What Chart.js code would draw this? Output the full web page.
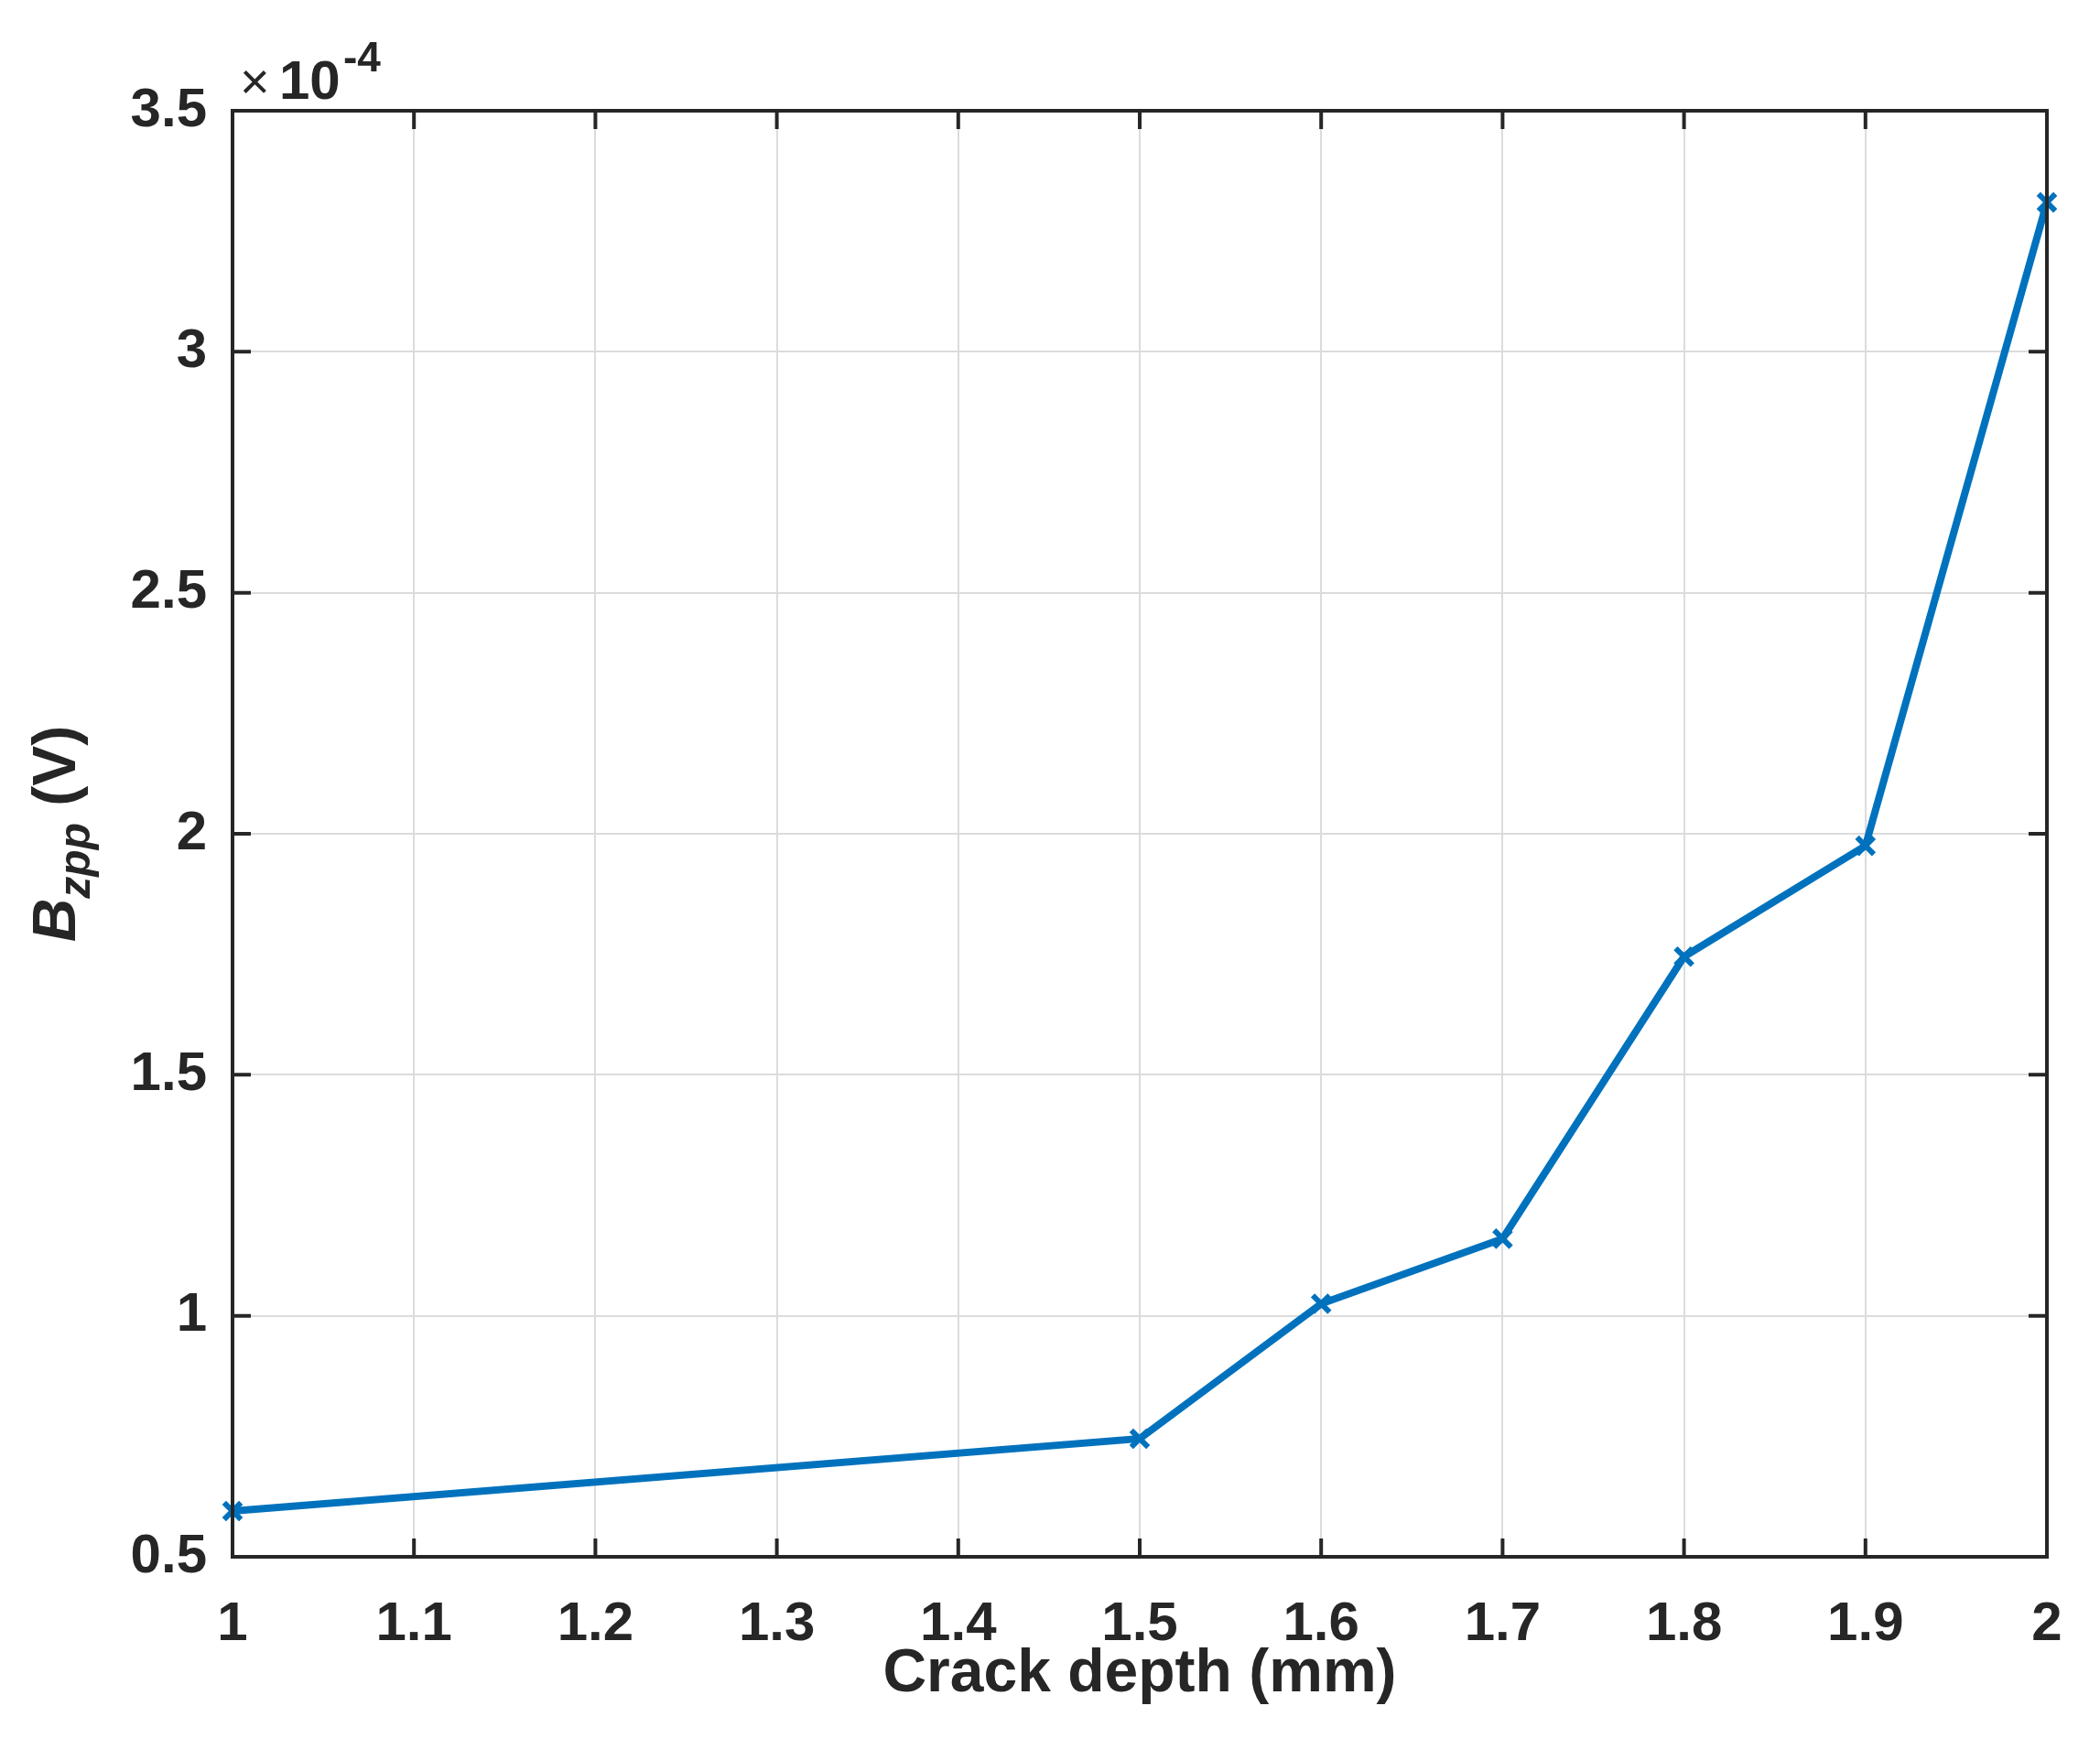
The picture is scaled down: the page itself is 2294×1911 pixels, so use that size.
<!DOCTYPE html>
<html><head><meta charset="utf-8">
<script src="https://cdn.jsdelivr.net/npm/chart.js@4/dist/chart.umd.min.js"></script>
<style>html,body{margin:0;padding:0;background:#fff}canvas{display:block}</style>
</head><body>
<div style="width:2294px;height:1911px"><canvas id="c" width="2294" height="1911"></canvas></div>
<script>
const crackDepth = [1.0, 1.5, 1.6, 1.7, 1.8, 1.9, 2.0];
const bzpp = [0.595, 0.745, 1.025, 1.16, 1.745, 1.975, 3.31]; // ×10^-4 V
const xTicks = [1, 1.1, 1.2, 1.3, 1.4, 1.5, 1.6, 1.7, 1.8, 1.9, 2];
const yTicks = [0.5, 1, 1.5, 2, 2.5, 3, 3.5];
const FONT = '"Liberation Sans", Arial, sans-serif';
const DARK = '#262626';

const deco = {
  id: 'deco',
  afterDraw(chart) {
    const ctx = chart.ctx, a = chart.chartArea, xs = chart.scales.x, ys = chart.scales.y;
    ctx.save();
    ctx.strokeStyle = DARK; ctx.lineWidth = 4;
    const T = 20;
    ctx.beginPath();
    xTicks.forEach(v => { const p = xs.getPixelForValue(v);
      ctx.moveTo(p, a.bottom); ctx.lineTo(p, a.bottom - T);
      ctx.moveTo(p, a.top); ctx.lineTo(p, a.top + T); });
    yTicks.forEach(v => { const p = ys.getPixelForValue(v);
      ctx.moveTo(a.left, p); ctx.lineTo(a.left + T, p);
      ctx.moveTo(a.right, p); ctx.lineTo(a.right - T, p); });
    ctx.stroke();
    ctx.strokeRect(a.left, a.top, a.right - a.left, a.bottom - a.top);
    // exponent
    ctx.fillStyle = DARK; ctx.textBaseline = 'alphabetic'; ctx.textAlign = 'left';
    ctx.font = '56px ' + FONT;
    ctx.fillText('\u00d7', 262, 108);
    ctx.font = 'bold 60px ' + FONT;
    ctx.fillText('10', 305, 108);
    ctx.font = 'bold 46px ' + FONT;
    ctx.fillText('-4', 375, 78);
    // x title
    ctx.font = 'bold 66px ' + FONT; ctx.textAlign = 'center';
    ctx.fillText('Crack depth (mm)', (a.left + a.right) / 2, 1848);
    // y title
    ctx.translate(82, (a.top + a.bottom) / 2);
    ctx.rotate(-Math.PI / 2);
    const parts = [['italic bold 66px ', 'B', 0], ['italic bold 48px ', 'zpp', 16], ['bold 66px ', ' (V)', 0]];
    let w = 0;
    parts.forEach(p => { ctx.font = p[0] + FONT; w += ctx.measureText(p[1]).width; });
    let x = -w / 2; ctx.textAlign = 'left';
    parts.forEach(p => { ctx.font = p[0] + FONT; ctx.fillText(p[1], x, p[2]); x += ctx.measureText(p[1]).width; });
    ctx.restore();
  }
};

new Chart(document.getElementById('c'), {
  type: 'line',
  data: { datasets: [{
    data: crackDepth.map((x, i) => ({ x, y: bzpp[i] })),
    borderColor: '#0072BD', borderWidth: 8, pointStyle: 'crossRot', pointRadius: 13,
    pointBorderWidth: 6, pointBorderColor: '#0072BD', pointBackgroundColor: '#0072BD',
    tension: 0, clip: false }] },
  options: {
    responsive: false, devicePixelRatio: 1, animation: false,
    layout: { padding: { left: 0, top: 121, right: 58, bottom: 0 } },
    plugins: { legend: { display: false }, tooltip: { enabled: false } },
    scales: {
      x: { type: 'linear', min: 1, max: 2, border: { display: false },
        afterBuildTicks: s => { s.ticks = xTicks.map(v => ({ value: v })); },
        afterFit: s => { s.height = 210; },
        grid: { color: '#dcdcdc', lineWidth: 2, drawTicks: false },
        ticks: { padding: 38, color: DARK, font: { family: FONT, size: 60, weight: 'bold' },
          callback: v => String(v) } },
      y: { type: 'linear', min: 0.5, max: 3.5, border: { display: false },
        afterBuildTicks: s => { s.ticks = yTicks.map(v => ({ value: v })); },
        afterFit: s => { s.width = 254; },
        grid: { color: '#dcdcdc', lineWidth: 2, drawTicks: false },
        ticks: { padding: 28, color: DARK, font: { family: FONT, size: 60, weight: 'bold' },
          callback: v => String(v) } }
    }
  },
  plugins: [deco]
});
</script>
</body></html>
